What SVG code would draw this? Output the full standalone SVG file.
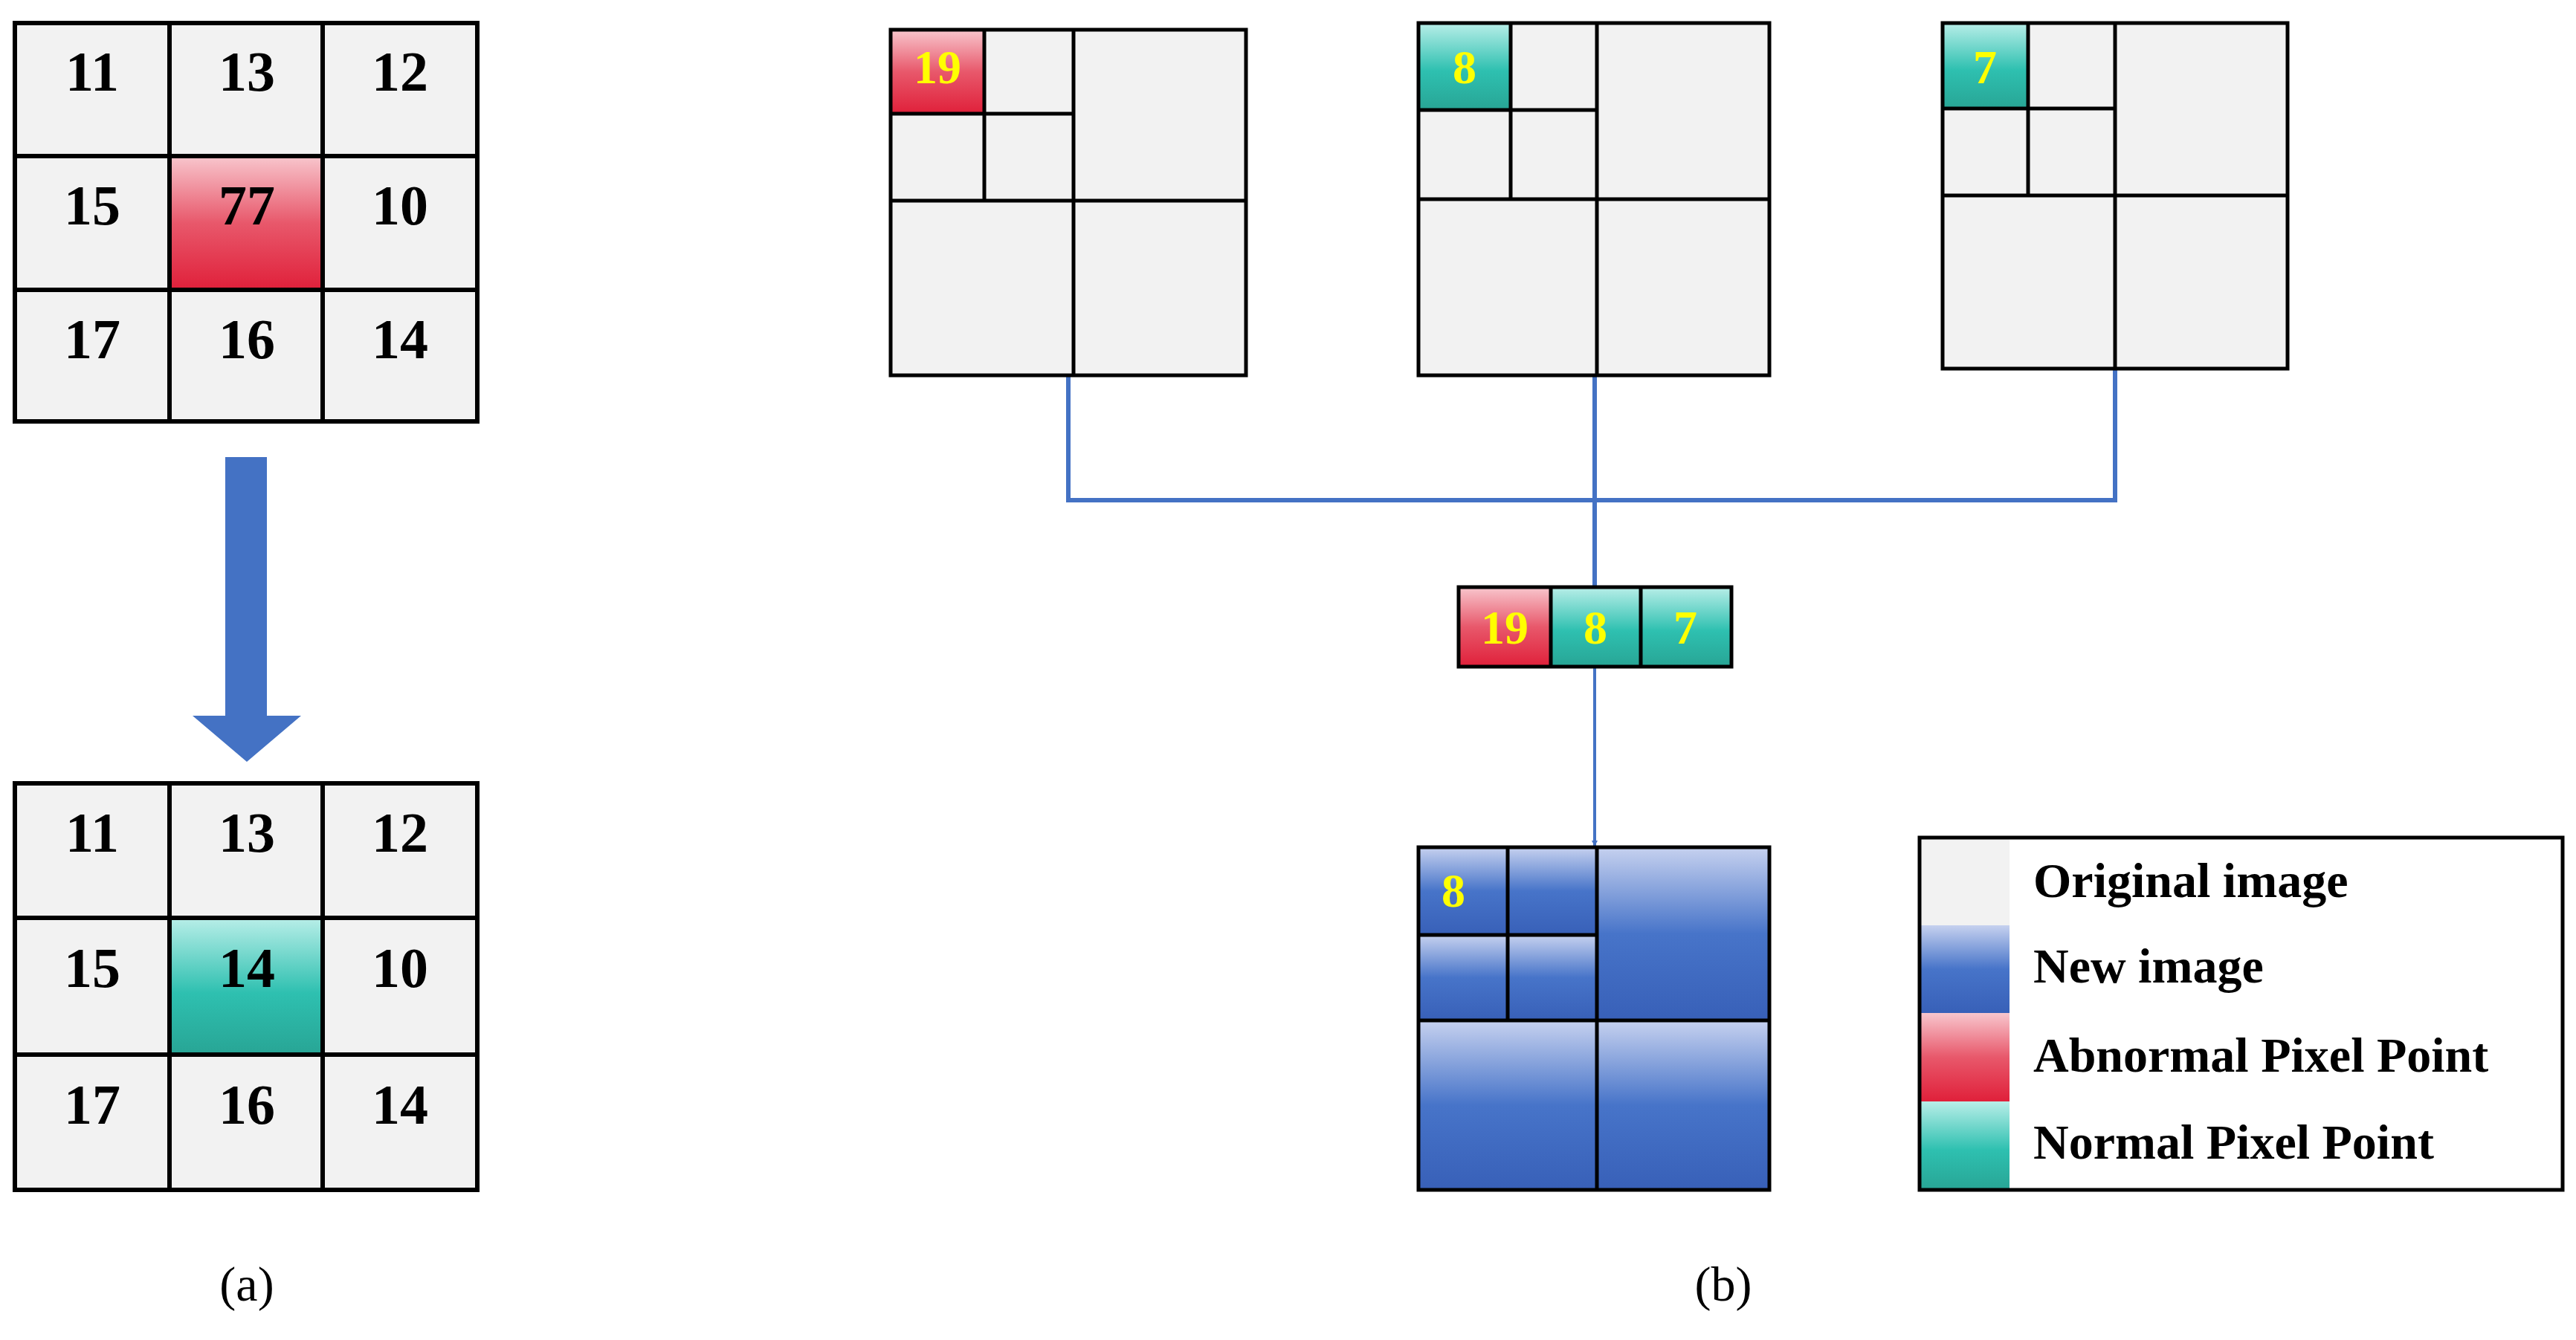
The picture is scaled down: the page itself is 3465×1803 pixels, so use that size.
<svg xmlns="http://www.w3.org/2000/svg" width="3465" height="1803" viewBox="0 0 3465 1803">
<defs>
<linearGradient id="red" x1="0" y1="0" x2="0" y2="1"><stop offset="0" stop-color="#f8c6cd"/><stop offset="0.5" stop-color="#e8586b"/><stop offset="1" stop-color="#e0203a"/></linearGradient>
<linearGradient id="teal" x1="0" y1="0" x2="0" y2="1"><stop offset="0" stop-color="#b8eee8"/><stop offset="0.55" stop-color="#2ec0b0"/><stop offset="1" stop-color="#28a595"/></linearGradient>
<linearGradient id="blue" x1="0" y1="0" x2="0" y2="1"><stop offset="0" stop-color="#c6d1ef"/><stop offset="0.5" stop-color="#4774c9"/><stop offset="1" stop-color="#3860b8"/></linearGradient>
<marker id="ah" markerWidth="8" markerHeight="8" refX="7" refY="4" orient="auto" markerUnits="userSpaceOnUse" viewBox="0 0 8 8"><path d="M0,0 L8,4 L0,8 z" fill="#4472c4"/></marker>
</defs>
<style>
.g{fill:#f2f2f2}
.ln{stroke:#000;stroke-width:6;fill:none}
.ln2{stroke:#000;stroke-width:5;fill:none}
.n{font-family:"Liberation Serif",serif;font-weight:bold;font-size:76px;text-anchor:middle;fill:#000}
.y{font-family:"Liberation Serif",serif;font-weight:bold;font-size:64px;text-anchor:middle;fill:#ffff00}
.lg{font-family:"Liberation Serif",serif;font-weight:bold;font-size:66px;fill:#000}
.cap{font-family:"Liberation Serif",serif;font-size:66px;text-anchor:middle;fill:#000}
.con{stroke:#4472c4;stroke-width:6;fill:none}
</style>
<rect width="3465" height="1803" fill="#fff"/>
<g id="gridA1">
<rect x="20" y="31" width="622" height="536" class="g"/>
<rect x="228" y="210" width="206" height="180" fill="url(#red)"/>
<rect x="20" y="31" width="622" height="536" class="ln"/>
<path d="M228,31V567M434,31V567M20,210H642M20,390H642" class="ln"/>
<text x="124" y="122" class="n">11</text><text x="332" y="122" class="n">13</text><text x="538" y="122" class="n">12</text>
<text x="124" y="302" class="n">15</text><text x="332" y="302" class="n">77</text><text x="538" y="302" class="n">10</text>
<text x="124" y="482" class="n">17</text><text x="332" y="482" class="n">16</text><text x="538" y="482" class="n">14</text>
</g>
<g id="bigArrow"><path d="M303,615H359V963H405L332,1025L259,963H303Z" fill="#4472c4"/></g>
<g id="gridA2">
<rect x="20" y="1054" width="622" height="547" class="g"/>
<rect x="228" y="1235" width="206" height="184" fill="url(#teal)"/>
<rect x="20" y="1054" width="622" height="547" class="ln"/>
<path d="M228,1054V1601M434,1054V1601M20,1235H642M20,1419H642" class="ln"/>
<text x="124" y="1146" class="n">11</text><text x="332" y="1146" class="n">13</text><text x="538" y="1146" class="n">12</text>
<text x="124" y="1328" class="n">15</text><text x="332" y="1328" class="n">14</text><text x="538" y="1328" class="n">10</text>
<text x="124" y="1512" class="n">17</text><text x="332" y="1512" class="n">16</text><text x="538" y="1512" class="n">14</text>
</g>
<text x="332" y="1750" class="cap">(a)</text>
<g id="connectors">
<path d="M1437,505V673H2845V496" class="con"/>
<path d="M2145,505V790" class="con"/>
<path d="M2145,897V1138" class="con" marker-end="url(#ah)" style="stroke-width:4"/>
</g>
<g id="box1">
<rect x="1198" y="40" width="478" height="465" class="g"/>
<rect x="1198" y="40" width="126" height="113" fill="url(#red)"/>
<rect x="1198" y="40" width="478" height="465" class="ln2"/>
<path d="M1444,40V505M1198,270H1676M1324,40V270M1198,153H1444" class="ln2"/>
<text x="1261" y="112" class="y">19</text>
</g>
<g id="box2">
<rect x="1908" y="31" width="472" height="474" class="g"/>
<rect x="1908" y="31" width="124" height="117" fill="url(#teal)"/>
<rect x="1908" y="31" width="472" height="474" class="ln2"/>
<path d="M2148,31V505M1908,268H2380M2032,31V268M1908,148H2148" class="ln2"/>
<text x="1970" y="112" class="y">8</text>
</g>
<g id="box3">
<rect x="2613" y="31" width="464" height="465" class="g"/>
<rect x="2613" y="31" width="115" height="115" fill="url(#teal)"/>
<rect x="2613" y="31" width="464" height="465" class="ln2"/>
<path d="M2845,31V496M2613,263H3077M2728,31V263M2613,146H2845" class="ln2"/>
<text x="2670" y="112" class="y">7</text>
</g>
<g id="strip">
<rect x="1962" y="790" width="124" height="107" fill="url(#red)"/>
<rect x="2086" y="790" width="243" height="107" fill="url(#teal)"/>
<rect x="1962" y="790" width="367" height="107" class="ln2"/>
<path d="M2086,790V897M2207,790V897" class="ln2"/>
<text x="2024" y="866" class="y">19</text><text x="2146" y="866" class="y">8</text><text x="2267" y="866" class="y">7</text>
</g>
<g id="newImage">
<rect x="1908" y="1140" width="120" height="118" fill="url(#blue)"/>
<rect x="2028" y="1140" width="120" height="118" fill="url(#blue)"/>
<rect x="1908" y="1258" width="120" height="115" fill="url(#blue)"/>
<rect x="2028" y="1258" width="120" height="115" fill="url(#blue)"/>
<rect x="2148" y="1140" width="232" height="233" fill="url(#blue)"/>
<rect x="1908" y="1373" width="240" height="228" fill="url(#blue)"/>
<rect x="2148" y="1373" width="232" height="228" fill="url(#blue)"/>
<rect x="1908" y="1140" width="472" height="461" class="ln2"/>
<path d="M2148,1140V1601M1908,1373H2380M2028,1140V1373M1908,1258H2148" class="ln2"/>
<text x="1955" y="1220" class="y">8</text>
</g>
<g id="legend">
<rect x="2582" y="1127" width="865" height="474" fill="#fff"/>
<rect x="2582" y="1127" width="121" height="118" class="g"/>
<rect x="2582" y="1245" width="121" height="118" fill="url(#blue)"/>
<rect x="2582" y="1363" width="121" height="119" fill="url(#red)"/>
<rect x="2582" y="1482" width="121" height="119" fill="url(#teal)"/>
<rect x="2582" y="1127" width="865" height="474" class="ln2"/>
<text x="2735" y="1207" class="lg">Original image</text>
<text x="2735" y="1322" class="lg">New image</text>
<text x="2735" y="1442" class="lg">Abnormal Pixel Point</text>
<text x="2735" y="1559" class="lg">Normal Pixel Point</text>
</g>
<text x="2318" y="1750" class="cap">(b)</text>
</svg>
